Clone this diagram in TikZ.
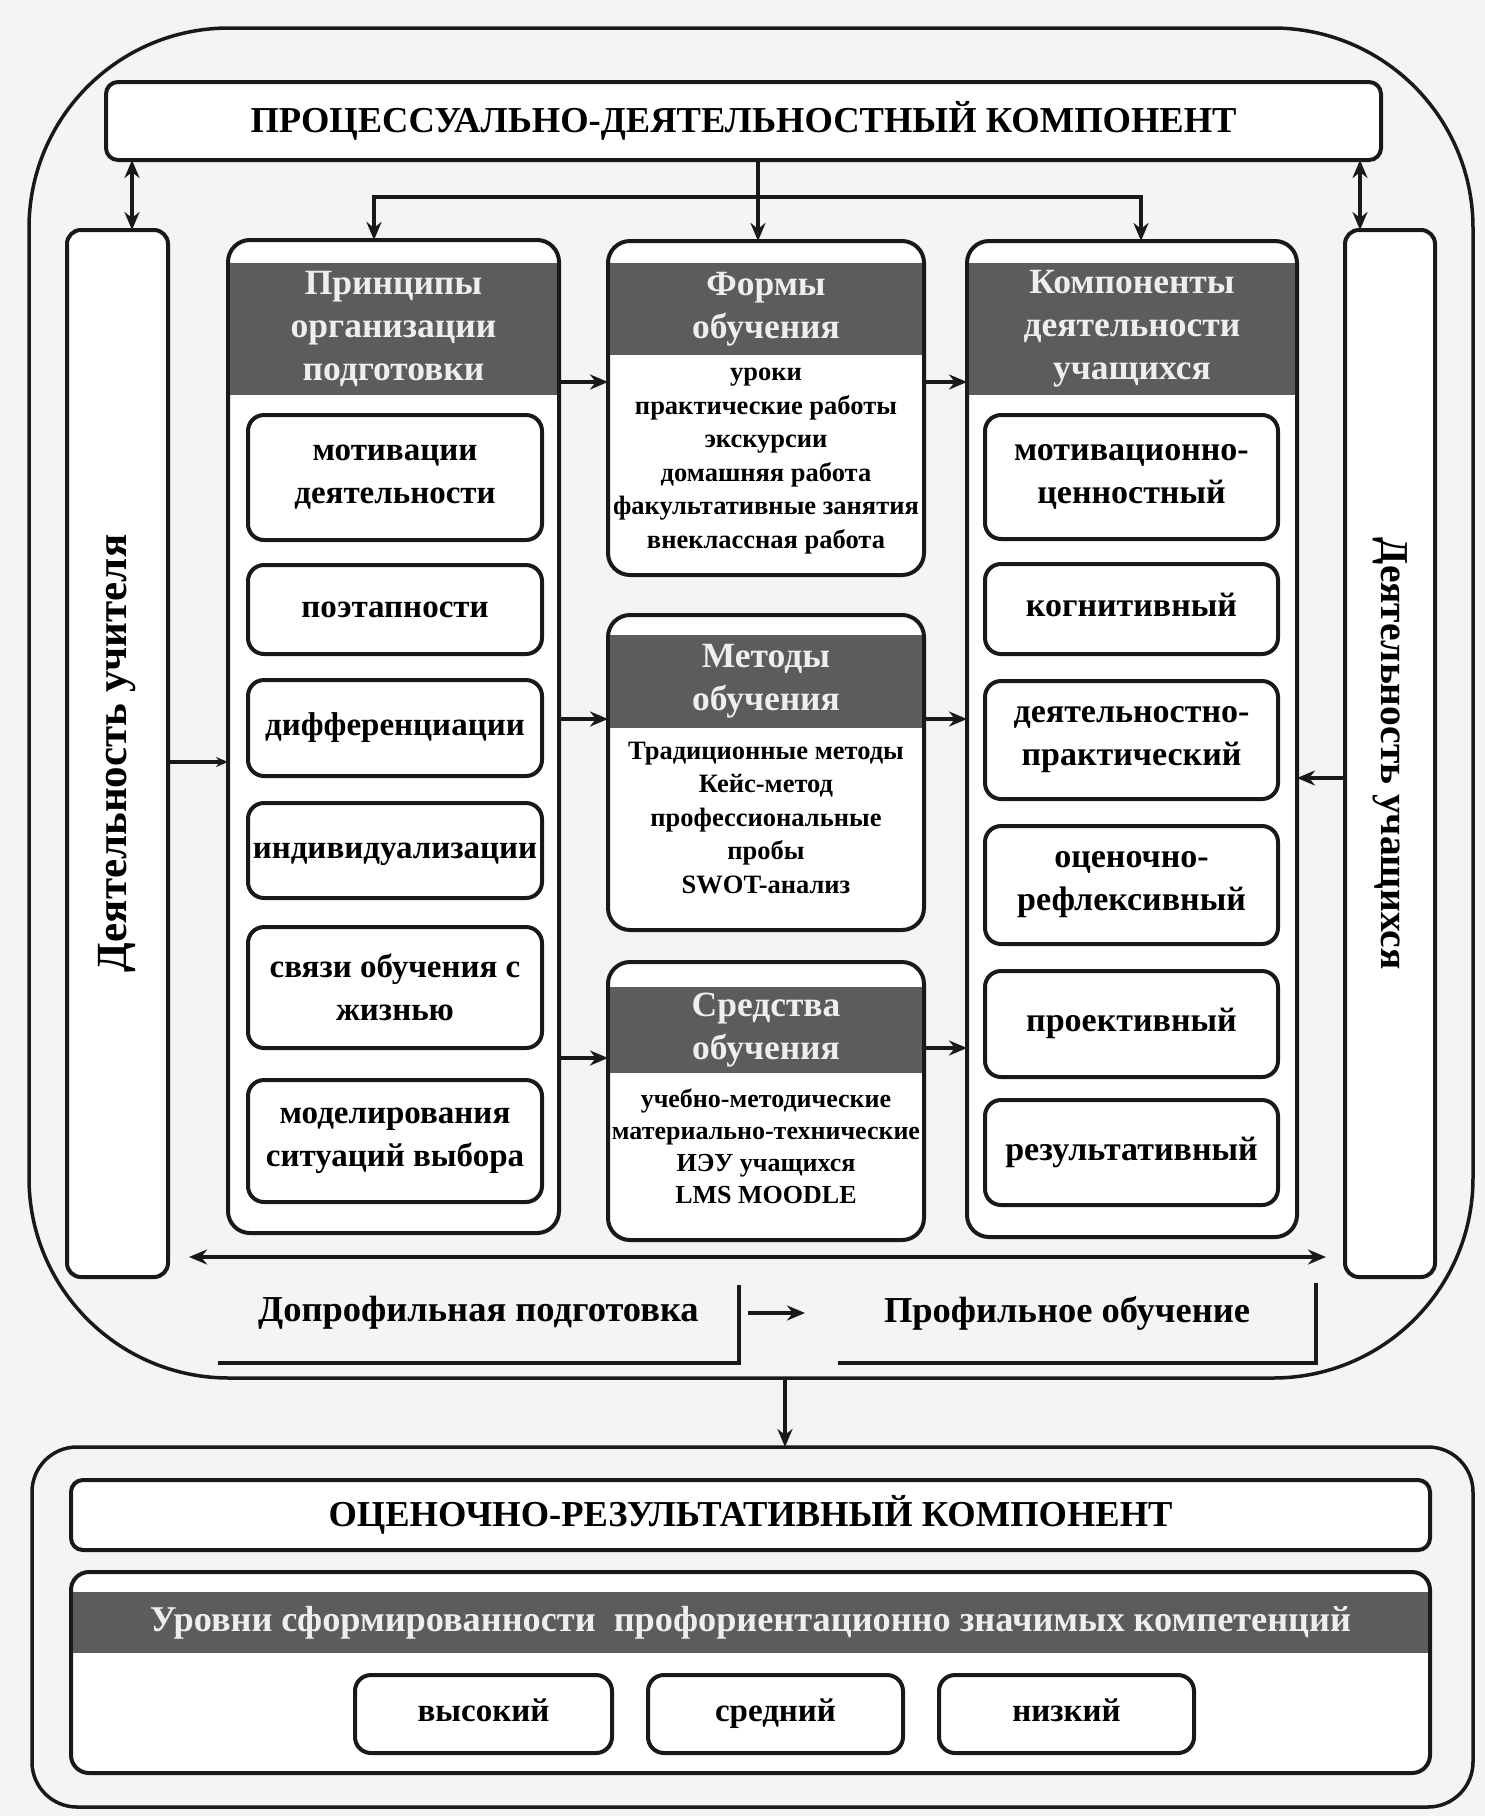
\documentclass[tikz,border=0pt]{standalone}
\usepackage{fontspec}
\setmainfont{Liberation Serif}
\usetikzlibrary{arrows.meta,calc}
\definecolor{ink}{RGB}{25,25,25}
\definecolor{headgray}{RGB}{92,92,92}
\definecolor{headtext}{RGB}{238,238,238}
\definecolor{bgcol}{RGB}{244,244,244}
\newcommand{\titlefnt}{\fontsize{36.5}{42}\selectfont\bfseries}
\newcommand{\headfnt}{\fontsize{35.5}{43}\selectfont\bfseries}
\newcommand{\itemfnt}{\fontsize{33}{43}\selectfont\bfseries}
\newcommand{\ritemfnt}{\fontsize{34}{43}\selectfont\bfseries}
\newcommand{\listfnt}{\fontsize{26.5}{33.5}\selectfont\bfseries}
\begin{document}
\begin{tikzpicture}[x=1pt,y=-1pt,
  every node/.style={inner sep=0pt, outer sep=0pt, align=center},
  box/.style={draw=ink, line width=4pt, fill=white, rounded corners=16pt},
  colbox/.style={draw=ink, line width=4pt, fill=white, rounded corners=22pt},
  head/.style={fill=headgray, text=headtext, font=\headfnt},
  item/.style={box, font=\itemfnt},
  ritem/.style={box, font=\ritemfnt},
  oneline/.style={text height=23pt, text depth=8pt},
  arr/.style={draw=ink, line width=3.5pt, -{Stealth[length=18pt,width=15pt]}},
  darr/.style={draw=ink, line width=3.5pt, {Stealth[length=18pt,width=15pt]}-{Stealth[length=18pt,width=15pt]}},
]
\fill[bgcol] (0,0) rectangle (1485,1816);
\useasboundingbox (0,0) rectangle (1485,1816);

% outer frame
\node[draw=ink, line width=3.5pt, rounded corners=200pt, minimum width=1444pt, minimum height=1350pt] (outer) at (751,703) {};

% title
\node[box, rounded corners=12pt, minimum width=1275pt, minimum height=78pt, font=\titlefnt] (ptitle) at (743.5,121) {ПРОЦЕССУАЛЬНО-ДЕЯТЕЛЬНОСТНЫЙ КОМПОНЕНТ};

% vertical boxes
\node[box, rounded corners=14pt, minimum width=101pt, minimum height=1047pt] (teacher) at (117.5,753.5) {};
\node[rotate=90, font=\fontsize{43}{45}\selectfont\bfseries] (teachertxt) at (teacher.center) {Деятельность учителя};
\node[box, rounded corners=14pt, minimum width=90pt, minimum height=1047pt] (students) at (1390,753.5) {};
\node[rotate=-90, font=\fontsize{39.5}{42}\selectfont\bfseries] (studentstxt) at (students.center) {Деятельность учащихся};

% left column
\node[colbox, minimum width=331pt, minimum height=993pt] (lcol) at (393.5,736.5) {};
\node[head, minimum width=327pt, minimum height=132pt] (lhead) at (393.5,329) {Принципы\\организации\\подготовки};
\node[item, minimum width=294pt, minimum height=125pt] (l1) at (395,477.5) {мотивации\\деятельности};
\node[item, oneline, minimum width=294pt, minimum height=89pt] (l2) at (395,609.5) {поэтапности};
\node[item, oneline, minimum width=294pt, minimum height=96pt] (l3) at (395,728) {дифференциации};
\node[item, oneline, minimum width=294pt, minimum height=95pt] (l4) at (395,850.5) {индивидуализации};
\node[item, minimum width=294pt, minimum height=121pt] (l5) at (395,987.5) {связи обучения с\\жизнью};
\node[item, minimum width=294pt, minimum height=122pt] (l6) at (395,1141) {моделирования\\ситуаций выбора};

% middle column
\node[colbox, minimum width=316pt, minimum height=334pt] (forms) at (766,408) {};
\node[head, minimum width=312pt, minimum height=92pt] (formshead) at (766,309) {Формы\\обучения};
\node[font=\listfnt] (formstxt) at (766,461) {уроки\\практические работы\\экскурсии\\домашняя работа\\факультативные занятия\\внеклассная работа};

\node[colbox, minimum width=316pt, minimum height=315pt] (methods) at (766,772.5) {};
\node[head, minimum width=312pt, minimum height=93pt] (methodshead) at (766,681.5) {Методы\\обучения};
\node[font=\listfnt] (methodstxt) at (766,818) {Традиционные методы\\Кейс-метод\\профессиональные\\пробы\\SWOT-анализ};

\node[colbox, minimum width=316pt, minimum height=278pt] (means) at (766,1101) {};
\node[head, minimum width=312pt, minimum height=86pt] (meanshead) at (766,1030) {Средства\\обучения};
\node[font=\fontsize{26}{32}\selectfont\bfseries] (meanstxt) at (766,1146) {учебно-методические\\материально-технические\\ИЭУ учащихся\\LMS MOODLE};

% right column
\node[colbox, minimum width=330pt, minimum height=996pt] (rcol) at (1132,739) {};
\node[head, minimum width=326pt, minimum height=132pt] (rhead) at (1132,329) {Компоненты\\деятельности\\учащихся};
\node[ritem, minimum width=293pt, minimum height=124pt] (r1) at (1131.5,477) {мотивационно-\\ценностный};
\node[ritem, oneline, minimum width=293pt, minimum height=90pt] (r2) at (1131.5,609) {когнитивный};
\node[ritem, minimum width=293pt, minimum height=118pt] (r3) at (1131.5,740) {деятельностно-\\практический};
\node[ritem, minimum width=293pt, minimum height=118pt] (r4) at (1131.5,885) {оценочно-\\рефлексивный};
\node[ritem, oneline, minimum width=293pt, minimum height=106pt] (r5) at (1131.5,1024) {проективный};
\node[ritem, oneline, minimum width=293pt, minimum height=105pt] (r6) at (1131.5,1152.5) {результативный};

% helper coordinates
\coordinate (xl) at (132,0);
\coordinate (xr) at (1360,0);
\coordinate (xm) at (758,0);
\coordinate (xa) at (374,0);
\coordinate (xc) at (1141,0);
\coordinate (xb) at (785,0);
\coordinate (hy) at (0,197);
\coordinate (y1) at (0,382);
\coordinate (y2) at (0,719);
\coordinate (y3) at (0,1058);
\coordinate (y3r) at (0,1048);
\coordinate (ya) at (0,762);
\coordinate (yb) at (0,778);
\coordinate (dl) at (189,1257);
\coordinate (dr) at (1326,1257);

% connectors top
\draw[darr] (ptitle.south -| xl) -- (teacher.north -| xl);
\draw[darr] (ptitle.south -| xr) -- (students.north -| xr);
\draw[arr] (ptitle.south -| xm) -- (forms.north -| xm);
\draw[arr] (hy -| xm) -| (lcol.north -| xa);
\draw[arr] (hy -| xm) -| (rcol.north -| xc);

% column connectors
\draw[arr] (lcol.east |- y1) -- (forms.west |- y1);
\draw[arr] (lcol.east |- y2) -- (methods.west |- y2);
\draw[arr] (lcol.east |- y3) -- (means.west |- y3);
\draw[arr] (forms.east |- y1) -- (rcol.west |- y1);
\draw[arr] (methods.east |- y2) -- (rcol.west |- y2);
\draw[arr] (means.east |- y3r) -- (rcol.west |- y3r);
\draw[draw=ink, line width=3.5pt, -{Stealth[length=12pt,width=10pt]}] (teacher.east |- ya) -- (lcol.west |- ya);
\draw[arr] (students.west |- yb) -- (rcol.east |- yb);
\draw[darr] (dl) -- (dr);

% stages
\node[font=\titlefnt, minimum width=521pt, minimum height=100pt] (pre) at (478.5,1313) {Допрофильная подготовка};
\draw[ink, line width=4pt] (pre.south west) -- (pre.south east) -- ($(pre.north east)+(0,22)$);
\node[font=\titlefnt, minimum width=478pt, minimum height=100pt] (prof) at (1077,1313) {\hspace*{-20pt}Профильное обучение};
\draw[ink, line width=4pt] (prof.south west) -- (prof.south east) -- ($(prof.north east)+(0,20)$);
\draw[arr] ($(pre.east)+(9,0)$) -- ($(prof.west)+(-33,0)$);

% bottom block
\node[draw=ink, line width=3.5pt, rounded corners=45pt, minimum width=1441pt, minimum height=360pt] (bframe) at (752.5,1627) {};
\draw[arr] (outer.south -| xb) -- (bframe.north -| xb);
\node[box, rounded corners=12pt, minimum width=1359pt, minimum height=70pt, font=\titlefnt] (rtitle) at (750.5,1515) {ОЦЕНОЧНО-РЕЗУЛЬТАТИВНЫЙ КОМПОНЕНТ};
\node[colbox, rounded corners=18pt, minimum width=1359pt, minimum height=201pt] (levels) at (750.5,1672.5) {};
\node[head, font=\fontsize{36.3}{40}\selectfont\bfseries, minimum width=1355pt, minimum height=61pt] (levelshead) at (750.5,1622.5) {Уровни сформированности~ профориентационно значимых компетенций};
\node[item, oneline, minimum width=257pt, minimum height=78pt] (hi) at (483.5,1714) {высокий};
\node[item, oneline, minimum width=255pt, minimum height=78pt] (mid) at (775.5,1714) {средний};
\node[item, oneline, minimum width=255pt, minimum height=78pt] (lo) at (1066.5,1714) {низкий};
\end{tikzpicture}
\end{document}
